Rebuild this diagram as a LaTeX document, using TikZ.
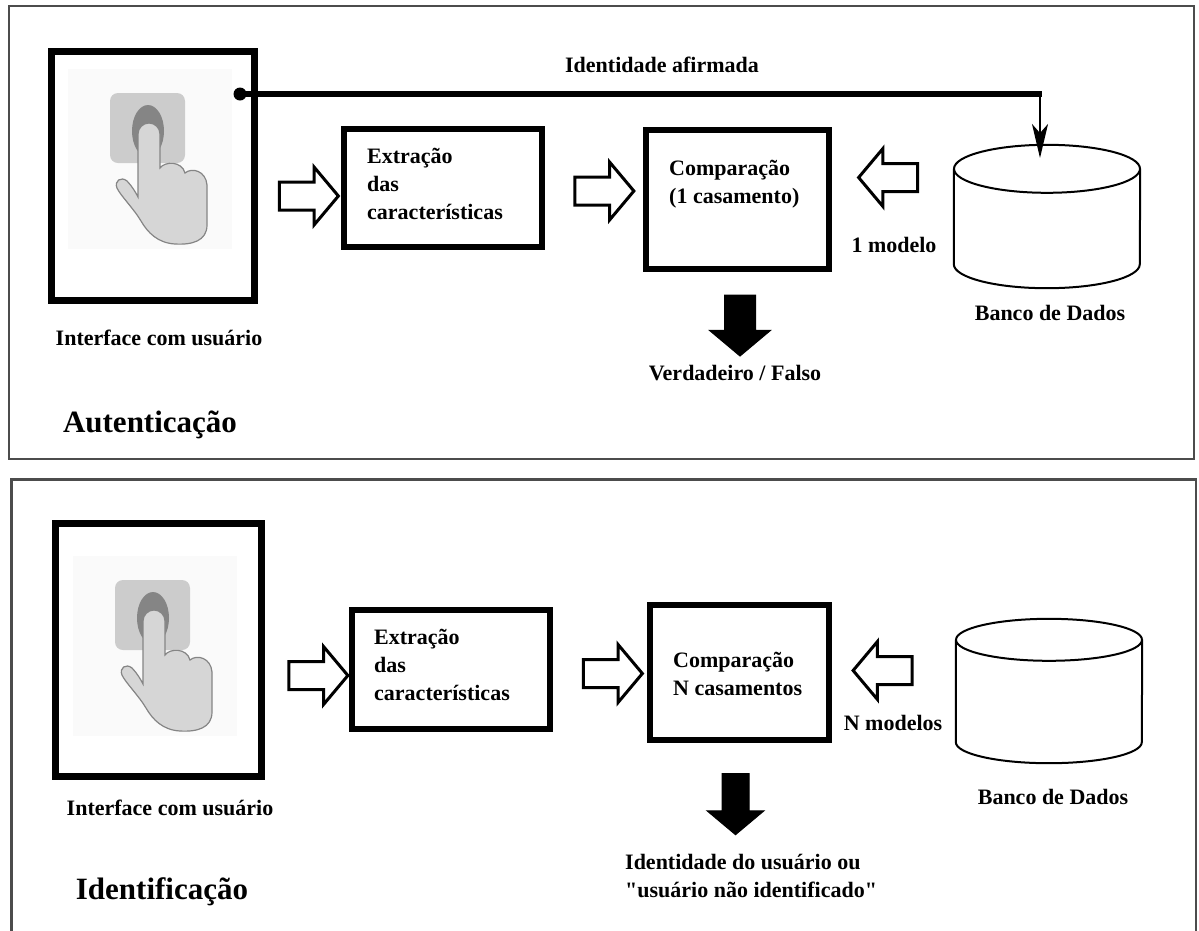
\documentclass[tikz,border=0pt]{standalone}
\usepackage{fontspec}
\setmainfont{Liberation Serif}
\usetikzlibrary{arrows.meta,shapes.arrows}

\tikzset{
  panel/.style={draw=black!70, line width=2.5pt},
  bigbox/.style={draw, line width=7pt, inner sep=0pt},
  midbox/.style={draw, line width=6pt, inner sep=0pt},
  lbl/.style={font=\bfseries\fontsize{22}{28}\selectfont, inner sep=0pt, align=left},
  titlelbl/.style={font=\bfseries\fontsize{31}{36}\selectfont, inner sep=0pt},
  hollowarrow/.style={single arrow, draw, fill=white, line width=3pt, inner sep=0pt,
    single arrow head extend=15pt, single arrow tip angle=100, minimum height=59pt},
  blackarrow/.style={single arrow, draw, fill=black, line width=1pt, inner sep=0pt,
    single arrow head extend=15pt, single arrow tip angle=100, minimum height=61pt, rotate=270},
  dbline/.style={line width=2pt},
  handicon/.pic={
    \fill[black!2] (-42,-24) rectangle (122,156);
    \fill[black!20, rounded corners=8pt] (0,0) rectangle (75,70);
    \fill[black!48] (38,38) ellipse [x radius=16pt, y radius=26pt];
    \filldraw[draw=black!48, line width=1.2pt, fill=black!16]
      (28,41) arc[start angle=180, end angle=0, radius=11pt] -- (50,75)
      .. controls (55,68) and (72,68) .. (75,80)
      .. controls (82,74) and (96,78) .. (97,92) -- (97,132)
      .. controls (97,148) and (82,152) .. (65,151)
      .. controls (48,150) and (38,140) .. (31,128)
      .. controls (24,116) and (10,102) .. (7,95)
      .. controls (4,88) and (11,83) .. (17,88)
      .. controls (22,93) and (26,100) .. (28,104) -- cycle;
  }
}

\begin{document}
\begin{tikzpicture}[x=1pt,y=-1pt]
\useasboundingbox (0,0) rectangle (1199,930);
\fill[white] (0,0) rectangle (1199,930);

% Autenticacao
\draw[panel] (9,6) rectangle (1194,459);
\node[bigbox, minimum width=203pt, minimum height=249pt] (iface1) at (153,176) {};
\pic at (110,93) {handicon};
\node[midbox, minimum width=198pt, minimum height=118pt] (extr1) at (443,188) {};
\node[lbl, anchor=west] (extrtxt1) at (367,184) {Extração\\das\\características};
\node[midbox, minimum width=183pt, minimum height=139pt] (cmp1) at (737.5,199.5) {};
\node[lbl, anchor=west] (cmptxt1) at (669,184) {Comparação\\(1 casamento)};
\node[inner sep=0pt, minimum width=186pt, minimum height=143pt] (db1) at (1047,216.5) {};
\draw[dbline] ([yshift=-24pt]db1.north) ellipse [x radius=93pt, y radius=24pt];
\draw[dbline] ([yshift=-24pt]db1.north west) -- ([yshift=24pt]db1.south west)
  arc[start angle=180, end angle=360, x radius=93pt, y radius=24pt]
  -- ([yshift=-24pt]db1.north east);
\node[circle, fill, inner sep=0pt, minimum size=13pt] (dot1) at (240,94) {};
\coordinate (bend1) at (1042,94);
\coordinate (dbtop1) at (1040,158);
\draw[line width=6pt] (dot1.center) -- (bend1);
\draw[line width=2pt, -{Stealth[length=34pt, width=16pt, inset=9pt]}] ([xshift=-2pt]bend1) -- (dbtop1);
\node[lbl] (idaf) at (662,65) {Identidade afirmada};
\node[hollowarrow] (a11) at (303,196) {\rule{0pt}{25pt}};
\node[hollowarrow] (a12) at (598.5,191) {\rule{0pt}{25pt}};
\node[hollowarrow, rotate=180] (a13) at (894,177.5) {\rule{0pt}{25pt}};
\node[blackarrow] (out1) at (740,319) {\rule{0pt}{30pt}};
\node[lbl] (ifacelbl1) at (159,338) {Interface com usuário};
\node[lbl] (mod1) at (894,245) {1 modelo};
\node[lbl] (dblbl1) at (1050,313) {Banco de Dados};
\node[lbl] (res1) at (735,373) {Verdadeiro / Falso};
\node[titlelbl] (title1) at (150,425) {Autenticação};

% Identificacao
\draw[panel] (11.5,479.5) rectangle (1196,935);
\node[bigbox, minimum width=206pt, minimum height=253pt] (iface2) at (158.5,650) {};
\pic at (115,580) {handicon};
\node[midbox, minimum width=198pt, minimum height=119pt] (extr2) at (451,669.5) {};
\node[lbl, anchor=west] (extrtxt2) at (374,665) {Extração\\das\\características};
\node[midbox, minimum width=179pt, minimum height=135pt] (cmp2) at (739.5,672.5) {};
\node[lbl, anchor=west] (cmptxt2) at (673,674) {Comparação\\N casamentos};
\node[inner sep=0pt, minimum width=186pt, minimum height=144pt] (db2) at (1049,691) {};
\draw[dbline] ([yshift=-21pt]db2.north) ellipse [x radius=93pt, y radius=21pt];
\draw[dbline] ([yshift=-21pt]db2.north west) -- ([yshift=21pt]db2.south west)
  arc[start angle=180, end angle=360, x radius=93pt, y radius=21pt]
  -- ([yshift=-21pt]db2.north east);
\node[hollowarrow] (a21) at (312.5,675.5) {\rule{0pt}{25pt}};
\node[hollowarrow] (a22) at (607,673.5) {\rule{0pt}{25pt}};
\node[hollowarrow, rotate=180] (a23) at (888.5,670.5) {\rule{0pt}{25pt}};
\node[blackarrow] (out2) at (735.5,798.5) {\rule{0pt}{26pt}};
\node[lbl] (ifacelbl2) at (170,808) {Interface com usuário};
\node[lbl] (mod2) at (893,723) {N modelos};
\node[lbl] (dblbl2) at (1053,797) {Banco de Dados};
\node[lbl, anchor=west] (res2) at (625,876) {Identidade do usuário ou\\\textquotedbl usuário não identificado\textquotedbl};
\node[titlelbl] (title2) at (162,892) {Identificação};
\end{tikzpicture}
\end{document}
